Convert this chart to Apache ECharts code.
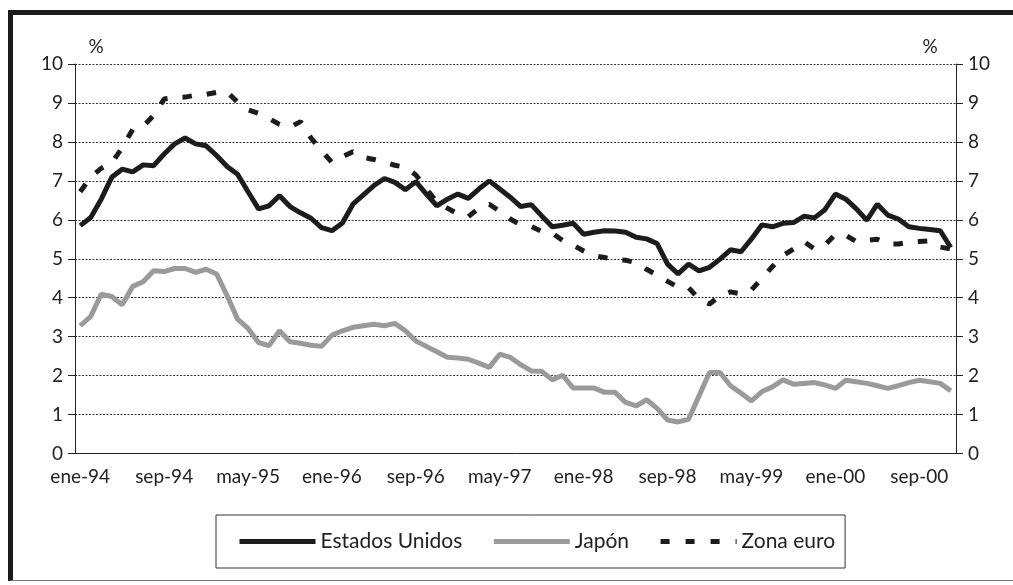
<!DOCTYPE html>
<html>
<head>
<meta charset="utf-8">
<script src="https://cdn.jsdelivr.net/npm/echarts@6/dist/echarts.min.js"></script>
<style>
    html, body { margin: 0; padding: 0; background: #fff; }
    #frame {
        position: absolute; left: 8px; top: 10px; width: 1005px; height: 565px;
        border-top: 5px solid #1a1a1a; border-left: 5px solid #1a1a1a; border-bottom: 1px solid #777;
    }
    #main { position: absolute; left: 0; top: 0; width: 1013px; height: 585px; }
</style>
</head>
<body>
<div id="frame"></div>
<div id="main"></div>
<script>
    // meses y años del eje horizontal
    var meses = ['ene', 'feb', 'mar', 'abr', 'may', 'jun', 'jul', 'ago', 'sep', 'oct', 'nov', 'dic'];
    var anios = ['94', '95', '96', '97', '98', '99', '00'];

    // rendimiento de la deuda pública a 10 años (%), mensual ene-94 a dic-00
    var estadosUnidos = [
        5.85, 6.06, 6.53, 7.09, 7.30, 7.23, 7.41, 7.39, 7.69, 7.95, 8.10, 7.95,
        7.90, 7.65, 7.37, 7.17, 6.72, 6.28, 6.36, 6.62, 6.34, 6.18, 6.04, 5.80,
        5.72, 5.92, 6.40, 6.64, 6.88, 7.06, 6.96, 6.77, 6.98, 6.66, 6.36, 6.53,
        6.66, 6.55, 6.79, 7.00, 6.79, 6.58, 6.34, 6.39, 6.10, 5.82, 5.86, 5.91,
        5.63, 5.68, 5.72, 5.71, 5.68, 5.55, 5.51, 5.39, 4.86, 4.61, 4.86, 4.69,
        4.78, 4.99, 5.23, 5.18, 5.51, 5.87, 5.82, 5.91, 5.93, 6.09, 6.05, 6.26,
        6.66, 6.53, 6.28, 5.99, 6.40, 6.12, 6.02, 5.82, 5.78, 5.75, 5.72, 5.29
    ];
    var japon = [
        3.28, 3.52, 4.09, 4.03, 3.82, 4.29, 4.41, 4.69, 4.67, 4.75, 4.75, 4.65,
        4.73, 4.61, 4.05, 3.45, 3.21, 2.85, 2.77, 3.15, 2.87, 2.83, 2.78, 2.75,
        3.04, 3.15, 3.24, 3.28, 3.32, 3.28, 3.34, 3.15, 2.89, 2.75, 2.61, 2.47,
        2.45, 2.42, 2.32, 2.21, 2.55, 2.47, 2.28, 2.12, 2.11, 1.89, 2.01, 1.68,
        1.68, 1.68, 1.57, 1.57, 1.31, 1.22, 1.38, 1.16, 0.86, 0.81, 0.88, 1.48,
        2.08, 2.08, 1.74, 1.55, 1.35, 1.59, 1.71, 1.89, 1.78, 1.80, 1.82, 1.76,
        1.67, 1.88, 1.84, 1.80, 1.74, 1.67, 1.74, 1.82, 1.88, 1.84, 1.80, 1.61
    ];
    var zonaEuro = [
        6.72, 7.10, 7.32, 7.46, 7.85, 8.32, 8.40, 8.68, 9.10, 9.14, 9.15, 9.20,
        9.22, 9.27, 9.28, 9.02, 8.82, 8.73, 8.60, 8.45, 8.38, 8.52, 8.10, 7.78,
        7.47, 7.62, 7.75, 7.60, 7.55, 7.48, 7.40, 7.35, 7.15, 6.80, 6.45, 6.30,
        6.15, 6.08, 6.30, 6.40, 6.22, 6.02, 5.87, 5.83, 5.70, 5.66, 5.47, 5.35,
        5.20, 5.08, 5.03, 4.98, 4.96, 4.90, 4.73, 4.58, 4.42, 4.27, 4.26, 3.96,
        3.84, 4.05, 4.15, 4.10, 4.20, 4.50, 4.80, 5.08, 5.25, 5.44, 5.25, 5.35,
        5.63, 5.60, 5.44, 5.47, 5.50, 5.38, 5.38, 5.42, 5.44, 5.46, 5.30, 5.25
    ];

    var categorias = [];
    for (var a = 0; a < anios.length; a++) {
        for (var m = 0; m < meses.length; m++) {
            categorias.push(meses[m] + '-' + anios[a]);
        }
    }

    var fuente = 'Lato';
    var myChart = echarts.init(document.getElementById('main'));

    var ejeY = function (pos) {
        return {
            type: 'value',
            position: pos,
            min: 0,
            max: 10,
            interval: 1,
            name: '%',
            nameLocation: 'end',
            nameGap: 8,
            nameTextStyle: {
                fontFamily: fuente, fontSize: 19, color: '#222',
                padding: pos === 'left' ? [0, 0, 0, 42] : [0, 52, 0, 0]
            },
            axisLine: { show: true, lineStyle: { color: '#222', width: 1 } },
            axisTick: { show: true, length: 7, lineStyle: { color: '#222' } },
            axisLabel: { fontFamily: fuente, fontSize: 19, color: '#222', margin: 12 },
            splitLine: {
                show: pos === 'left',
                lineStyle: { color: '#333', width: 1, type: [2, 1.5] }
            }
        };
    };

    var option = {
        animation: false,
        grid: { left: 75, right: 57, top: 64, bottom: 131.5, containLabel: false },
        legend: {
            left: 216,
            top: 515,
            padding: [16, 10, 16, 21],
            itemGap: 29,
            itemWidth: 76,
            itemHeight: 14,
            borderColor: '#333',
            borderWidth: 1,
            itemStyle: { opacity: 0 },
            lineStyle: { width: 5 },
            textStyle: { fontFamily: fuente, fontSize: 21, color: '#222' },
            data: [
                'Estados Unidos',
                'Japón',
                { name: 'Zona euro', lineStyle: { width: 5, type: [9, 16] } }
            ]
        },
        xAxis: {
            type: 'category',
            data: categorias,
            boundaryGap: true,
            axisLine: { lineStyle: { color: '#222', width: 1 } },
            axisTick: { interval: 7, length: 7, lineStyle: { color: '#222' } },
            axisLabel: { interval: 7, fontFamily: fuente, fontSize: 19, color: '#222', margin: 14 }
        },
        yAxis: [ejeY('left'), ejeY('right')],
        series: [
            {
                name: 'Estados Unidos',
                type: 'line',
                data: estadosUnidos,
                symbol: 'none',
                lineStyle: { color: '#1c1c1c', width: 5 },
                itemStyle: { color: '#1c1c1c' }
            },
            {
                name: 'Japón',
                type: 'line',
                data: japon,
                symbol: 'none',
                lineStyle: { color: '#9a9a9a', width: 5 },
                itemStyle: { color: '#9a9a9a' }
            },
            {
                name: 'Zona euro',
                type: 'line',
                data: zonaEuro,
                symbol: 'none',
                lineStyle: { color: '#1c1c1c', width: 5, type: [9.5, 15] },
                itemStyle: { color: '#1c1c1c' }
            }
        ]
    };

    myChart.setOption(option);
</script>
</body>
</html>
